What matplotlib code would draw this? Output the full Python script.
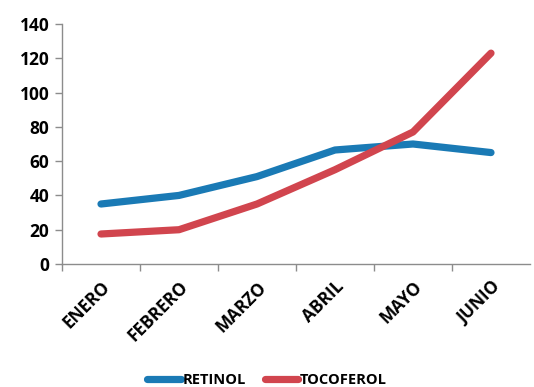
import matplotlib
matplotlib.use("Agg")
import matplotlib.pyplot as plt
import numpy as np

meses = ["ENERO", "FEBRERO", "MARZO", "ABRIL", "MAYO", "JUNIO"]
retinol = [35, 40, 51, 66.5, 70, 65]
tocoferol = [17.5, 20, 35, 55, 77, 123]

AZUL = "#1a7ab5"
ROJO = "#d1454e"
GRIS = "#8c8c8c"

plt.rcParams["font.family"] = ["Open Sans", "DejaVu Sans"]
plt.rcParams["font.weight"] = "bold"

fig = plt.figure(figsize=(5.34, 3.87), dpi=100)
ax = fig.add_axes([62 / 534, 123 / 387, 468 / 534, 240 / 387])

x = np.arange(len(meses))
ax.plot(x, retinol, color=AZUL, lw=5.2, solid_capstyle="round",
        solid_joinstyle="round", label="RETINOL")
ax.plot(x, tocoferol, color=ROJO, lw=5.2, solid_capstyle="round",
        solid_joinstyle="round", label="TOCOFEROL")

ax.set_xlim(-0.5, len(meses) - 0.5)
ax.set_ylim(0, 140)
ax.set_yticks(np.arange(0, 141, 20))

# ticks on the category boundaries, labels in the middle
ax.set_xticks(np.arange(-0.5, len(meses) - 0.5, 1))
ax.set_xticklabels([])
ax.set_xticks(x, minor=True)
ax.set_xticklabels(meses, minor=True, rotation=45, ha="right",
                   rotation_mode="anchor", fontsize=12.5, fontweight="bold")
ax.tick_params(axis="x", which="minor", length=0, pad=10)
ax.tick_params(axis="x", which="major", length=5, color=GRIS, width=1)
ax.tick_params(axis="y", length=5, color=GRIS, width=1, labelsize=12.5, pad=4)
for lbl in ax.get_yticklabels():
    lbl.set_fontweight("bold")

for s in ("top", "right"):
    ax.spines[s].set_visible(False)
for s in ("left", "bottom"):
    ax.spines[s].set_color(GRIS)
    ax.spines[s].set_linewidth(1)

fig.legend(loc="lower center", bbox_to_anchor=(0.5, -0.035), ncol=2,
           frameon=False, prop={"size": 10.5, "weight": "bold"},
           handlelength=2.3, handletextpad=0.1, columnspacing=1.3)

fig.savefig("out.png", dpi=100)
